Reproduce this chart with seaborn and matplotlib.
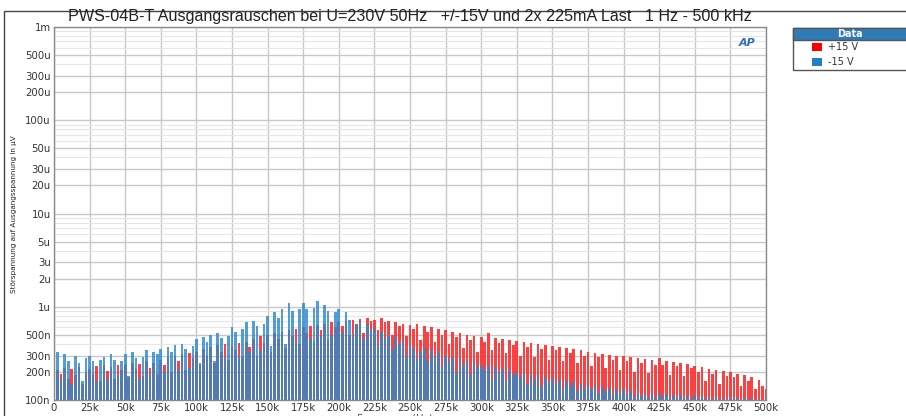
import numpy as np
import pandas as pd
import matplotlib
matplotlib.use('Agg')
import matplotlib.pyplot as plt
import seaborn as sns
from matplotlib.patches import Rectangle

# Spectrum bins every 2.5 kHz from 0 to 500 kHz, levels in nV
freq_hz = [i * 2500 for i in range(201)]

plus15_nv = [
    3000, 210, 190, 220, 170, 215, 185, 225, 150, 195,
    215, 190, 230, 160, 240, 205, 225, 170, 235, 210,
    240, 175, 250, 215, 245, 180, 260, 220, 250, 190,
    270, 240, 290, 200, 300, 260, 310, 210, 320, 280,
    330, 240, 350, 300, 370, 250, 390, 330, 400, 270,
    380, 340, 410, 290, 420, 370, 450, 300, 480, 410,
    500, 330, 520, 450, 540, 360, 560, 480, 580, 400,
    600, 520, 620, 420, 640, 560, 660, 450, 680, 600,
    680, 620, 700, 500, 720, 660, 740, 520, 760, 700,
    720, 560, 760, 680, 700, 500, 680, 620, 660, 480,
    640, 580, 660, 440, 620, 540, 600, 420, 580, 500,
    560, 400, 540, 470, 520, 360, 500, 440, 480, 330,
    470, 420, 520, 340, 460, 410, 450, 320, 440, 390,
    430, 300, 420, 370, 410, 290, 400, 350, 390, 270,
    380, 340, 370, 260, 360, 320, 350, 250, 340, 300,
    330, 230, 320, 290, 310, 220, 305, 270, 300, 210,
    300, 260, 290, 200, 280, 250, 275, 195, 270, 240,
    280, 240, 265, 185, 255, 230, 250, 180, 245, 220,
    230, 200, 225, 160, 215, 190, 210, 150, 205, 180,
    200, 175, 190, 140, 185, 160, 175, 130, 165, 140,
    130,
]

minus15_nv = [
    2600, 330, 170, 310, 260, 150, 300, 250, 160, 280,
    300, 260, 160, 270, 290, 170, 310, 270, 180, 260,
    310, 180, 330, 280, 170, 290, 340, 190, 330, 310,
    350, 200, 370, 330, 390, 210, 400, 350, 220, 380,
    450, 250, 470, 420, 500, 260, 520, 460, 280, 480,
    600, 540, 300, 580, 680, 330, 700, 620, 340, 650,
    800, 380, 880, 760, 950, 400, 1100, 900, 420, 950,
    1100, 950, 450, 980, 1150, 480, 1050, 900, 500, 880,
    950, 520, 880, 720, 500, 640, 700, 450, 660, 560,
    580, 400, 540, 460, 500, 350, 470, 400, 440, 300,
    400, 350, 280, 330, 360, 260, 340, 290, 320, 230,
    300, 260, 290, 200, 280, 240, 270, 190, 260, 225,
    240, 210, 230, 170, 225, 195, 215, 160, 210, 185,
    200, 175, 195, 150, 190, 165, 185, 140, 175, 155,
    170, 150, 165, 130, 160, 140, 155, 125, 150, 135,
    145, 130, 140, 118, 138, 125, 135, 115, 132, 120,
    130, 115, 125, 108, 122, 110, 120, 106, 118, 106,
    120, 108, 116, 104, 114, 105, 112, 103, 110, 103,
    112, 104, 110, 102, 108, 102, 107, 101, 106, 100,
    108, 102, 106, 101, 105, 100, 104, 100, 103, 100,
    100,
]

x_ticks = [i * 25000 for i in range(21)]
x_labels = ['0'] + ['%dk' % (i * 25) for i in range(1, 21)]
y_ticks = [1e-7, 2e-7, 3e-7, 5e-7, 1e-6, 2e-6, 3e-6, 5e-6, 1e-5, 2e-5, 3e-5, 5e-5,
           1e-4, 2e-4, 3e-4, 5e-4, 1e-3]
y_labels = ['100n', '200n', '300n', '500n', '1u', '2u', '3u', '5u', '10u', '20u', '30u',
            '50u', '100u', '200u', '300u', '500u', '1m']
y_minor = [m * 10.0 ** e for e in range(-7, -3) for m in (4, 6, 7, 8, 9)]

RED = '#ff3030'
BLUE = '#2e88cc'

df_plus = pd.DataFrame({'freq': freq_hz, 'level': [v * 1e-9 for v in plus15_nv]})
df_minus = pd.DataFrame({'freq': freq_hz, 'level': [v * 1e-9 for v in minus15_nv]})

sns.set_style('white')
plt.rcParams['font.family'] = ['DejaVu Sans']

fig = plt.figure(figsize=(9.06, 4.16), dpi=100)
ax = fig.add_axes([54 / 906, 16 / 416, 712 / 906, 373 / 416])

sns.barplot(data=df_plus, x='freq', y='level', native_scale=True, errorbar=None,
            color=RED, saturation=1, alpha=0.92, width=0.75, linewidth=0, ax=ax)
sns.barplot(data=df_minus, x='freq', y='level', native_scale=True, errorbar=None,
            color=BLUE, saturation=1, alpha=0.82, width=0.75, linewidth=0, ax=ax)

ax.set_yscale('log')
ax.set_ylim(1e-7, 1e-3)
ax.set_xlim(0, 500000)
ax.set_xticks(x_ticks)
ax.set_xticklabels(x_labels)
ax.set_yticks(y_ticks)
ax.set_yticklabels(y_labels)
ax.set_yticks(y_minor, minor=True)
ax.yaxis.set_minor_formatter(matplotlib.ticker.NullFormatter())
ax.tick_params(axis='both', which='both', length=0, labelsize=7.3, colors='#333333', pad=2.5)
ax.grid(True, which='major', color='#c8c8c8', linewidth=1.0)
ax.grid(True, which='minor', axis='y', color='#e6e6e6', linewidth=0.8)
ax.set_axisbelow(True)
for s in ax.spines.values():
    s.set_color('#8a8a8a')
    s.set_linewidth(1.0)
ax.set_xlabel('')
ax.set_ylabel('')

fig.text(410 / 906, 1 - 17 / 416, 'PWS-04B-T Ausgangsrauschen bei U=230V 50Hz   +/-15V und 2x 225mA Last   1 Hz - 500 kHz',
         ha='center', va='center', fontsize=11.6, family=['Liberation Sans', 'DejaVu Sans'], color='#222222')
fig.text(14 / 906, 1 - 214 / 416, 'Störspannung auf Ausgangsspannung in µV', rotation=90,
         ha='center', va='center', fontsize=5.2, family=['Liberation Sans Narrow', 'DejaVu Sans'],
         color='#222222')
fig.text(395 / 906, 1 - 413.5 / 416, 'Frequency (Hz)', ha='center', va='top', fontsize=7.3, color='#555555')

# AP logo
ax.text(0.985, 0.97, 'AP', transform=ax.transAxes, ha='right', va='top', fontsize=8,
        fontweight='bold', style='italic', color='#2f6fc0')

# outer frame
fig.patches.append(Rectangle((4 / 906, -0.1), 1.0, 1.1 - 11 / 416, transform=fig.transFigure,
                             fill=False, edgecolor='#444444', linewidth=1.0))

# legend box
lx0, lx1 = 793 / 906, 1.02
ly_top, ly_head, ly_bot = 1 - 28 / 416, 1 - 40 / 416, 1 - 70 / 416
fig.patches.append(Rectangle((lx0, ly_bot), lx1 - lx0, ly_top - ly_bot, transform=fig.transFigure,
                             facecolor='white', edgecolor='#555555', linewidth=1.0))
fig.patches.append(Rectangle((lx0, ly_head), lx1 - lx0, ly_top - ly_head, transform=fig.transFigure,
                             facecolor='#2e7bb6', edgecolor='#555555', linewidth=1.0))
fig.text(850 / 906, (ly_top + ly_head) / 2, 'Data', ha='center', va='center', fontsize=7,
         fontweight='bold', color='white')
for i, (lab, col) in enumerate([('+15 V', '#ff0000'), ('-15 V', '#1f80c8')]):
    yc = 1 - (47 + i * 15) / 416
    fig.patches.append(Rectangle((812 / 906, yc - 4 / 416), 10 / 906, 8 / 416, transform=fig.transFigure,
                                 facecolor=col, edgecolor='none'))
    fig.text(828 / 906, yc, lab, ha='left', va='center', fontsize=7, color='#333333')

fig.savefig('out.png', dpi=100)
